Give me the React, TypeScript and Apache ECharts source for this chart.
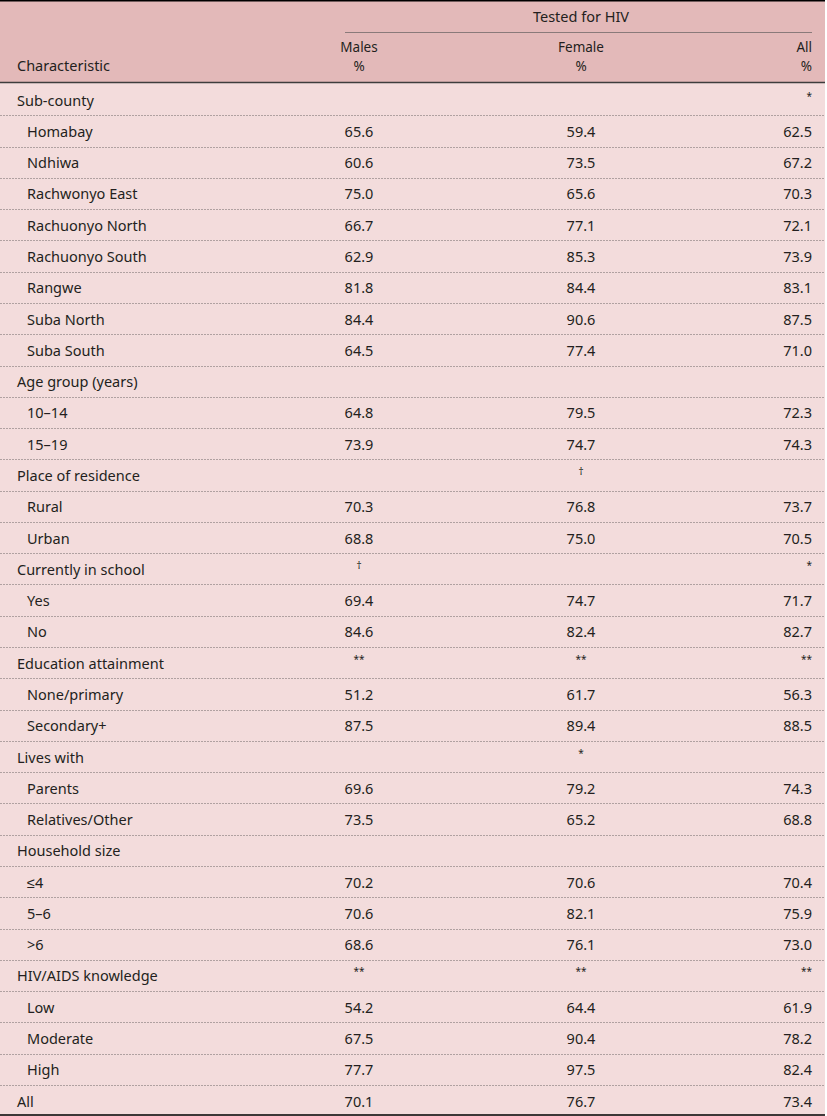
import React, { useEffect, useRef } from "react";
import * as echarts from "echarts";

const characteristics = [
  "Sub-county", "Homabay", "Ndhiwa", "Rachwonyo East", "Rachuonyo North", "Rachuonyo South",
  "Rangwe", "Suba North", "Suba South", "Age group (years)", "10–14", "15–19",
  "Place of residence", "Rural", "Urban", "Currently in school", "Yes", "No",
  "Education attainment", "None/primary", "Secondary+", "Lives with", "Parents",
  "Relatives/Other", "Household size", "≤4", "5–6", ">6", "HIV/AIDS knowledge",
  "Low", "Moderate", "High", "All",
];
const levels = [0, 1, 1, 1, 1, 1, 1, 1, 1, 0, 1, 1, 0, 1, 1, 0, 1, 1, 0, 1, 1, 0, 1, 1, 0, 1, 1, 1, 0, 1, 1, 1, 0];
const males = [
  "", "65.6", "60.6", "75.0", "66.7", "62.9", "81.8", "84.4", "64.5", "", "64.8", "73.9",
  "", "70.3", "68.8", "†", "69.4", "84.6", "**", "51.2", "87.5", "", "69.6", "73.5",
  "", "70.2", "70.6", "68.6", "**", "54.2", "67.5", "77.7", "70.1",
];
const female = [
  "", "59.4", "73.5", "65.6", "77.1", "85.3", "84.4", "90.6", "77.4", "", "79.5", "74.7",
  "†", "76.8", "75.0", "", "74.7", "82.4", "**", "61.7", "89.4", "*", "79.2", "65.2",
  "", "70.6", "82.1", "76.1", "**", "64.4", "90.4", "97.5", "76.7",
];
const allCol = [
  "*", "62.5", "67.2", "70.3", "72.1", "73.9", "83.1", "87.5", "71.0", "", "72.3", "74.3",
  "", "73.7", "70.5", "*", "71.7", "82.7", "**", "56.3", "88.5", "", "74.3", "68.8",
  "", "70.4", "75.9", "73.0", "**", "61.9", "78.2", "82.4", "73.4",
];
const headerGroup = "Tested for HIV";
const columnHeads = ["Males", "Female", "All"];
const unitLabel = "%";
const firstHead = "Characteristic";

const FONT = "'Noto Sans', sans-serif";
const TXT = "#231f20";

export default function App() {
  const ref = useRef<HTMLDivElement>(null);
  useEffect(() => {
    document.body.style.margin = "0";
    const chart = echarts.init(ref.current!, null, { renderer: "svg" });
    const W = 825;
    const headH = 83;
    const rowTop = 84;
    const rowH = 31.28;
    const n = characteristics.length;
    const colX = [359, 581, 812];
    const els: any[] = [];
    els.push({ type: "rect", shape: { x: 0, y: 0, width: W, height: headH }, style: { fill: "#e3b9b9" } });
    els.push({ type: "rect", shape: { x: 0, y: headH, width: W, height: 1116 - headH }, style: { fill: "#f3dcdc" } });
    els.push({ type: "line", shape: { x1: 0, y1: 0.75, x2: W, y2: 0.75 }, style: { stroke: "#000", lineWidth: 1.5 } });
    els.push({ type: "line", shape: { x1: 0, y1: 82.5, x2: W, y2: 82.5 }, style: { stroke: "#3d3d3d", lineWidth: 1.5 } });
    els.push({ type: "line", shape: { x1: 345, y1: 32.5, x2: 812, y2: 32.5 }, style: { stroke: "#8a7a7a", lineWidth: 1 } });
    const txt = (text: string, x: number, y: number, align: string, size = 14.5) => ({
      type: "text",
      x, y,
      style: { text, fill: TXT, font: `${size}px ${FONT}`, align, verticalAlign: "middle" },
    });
    els.push(txt(headerGroup, 581, 16, "center"));
    els.push(txt(firstHead, 17, 65, "left"));
    columnHeads.forEach((h, i) => {
      const al = i === 2 ? "right" : "center";
      els.push(txt(h, colX[i], 46.5, al, 13.5));
      els.push(txt(unitLabel, colX[i], 65.5, al, 13.5));
    });
    for (let i = 0; i < n; i++) {
      const cy = rowTop + i * rowH + rowH / 2;
      els.push(txt(characteristics[i], levels[i] ? 27 : 17, cy, "left"));
      [males[i], female[i], allCol[i]].forEach((v, j) => {
        if (!v) return;
        const sym = !/\d/.test(v);
        const al = j === 2 ? "right" : "center";
        els.push(sym ? txt(v, colX[j], cy - 4, al, 10) : txt(v, colX[j], cy, al));
      });
      if (i < n - 1) {
        const ly = Math.round(rowTop + (i + 1) * rowH) + 0.5;
        els.push({
          type: "line",
          shape: { x1: 0, y1: ly, x2: W, y2: ly },
          style: { stroke: "#9a8e8e", lineWidth: 1, lineDash: [2, 1], opacity: 0.75 },
        });
      }
    }
    els.push({ type: "line", shape: { x1: 0, y1: 1115, x2: W, y2: 1115 }, style: { stroke: "#000", lineWidth: 1.5 } });
    chart.setOption({ animation: false, graphic: { elements: els } });
    return () => chart.dispose();
  }, []);
  return <div ref={ref} style={{ width: 827, height: 1116, background: "#fff" }} />;
}
